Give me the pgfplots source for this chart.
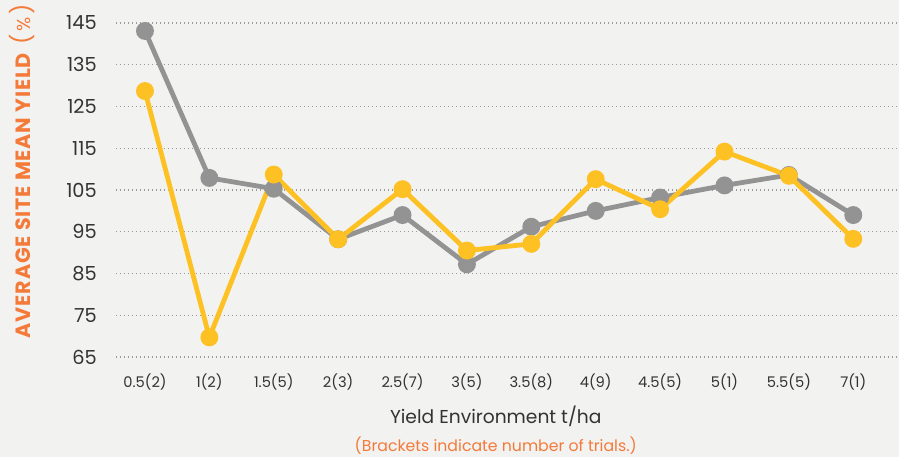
\documentclass[border=0pt]{standalone}
\usepackage{pgfplots}
\pgfplotsset{compat=1.18}
\usepackage{fontspec}
\setmainfont{Poppins}
\definecolor{bgc}{HTML}{F2F2F1}
\definecolor{grayline}{HTML}{939393}
\definecolor{yell}{HTML}{FEC124}
\definecolor{orng}{HTML}{F47A3A}
\definecolor{txt}{HTML}{333333}
\begin{document}
\begin{tikzpicture}
\path[use as bounding box, fill=bgc] (-87pt,-75pt) rectangle (587.25pt,267.75pt);
\begin{axis}[
  at={(0,0)}, anchor=south west,
  scale only axis, width=587.25pt, height=250.5pt,
  xmin=-0.45, xmax=11.71, ymin=65, ymax=145,
  axis line style={draw=none}, major tick length=0pt,
  xtick={0,...,11},
  xticklabels={0.5(2),1(2),1.5(5),2(3),2.5(7),3(5),3.5(8),4(9),4.5(5),5(1),5.5(5),7(1)},
  ytick={65,75,...,145},
  ymajorgrids, grid style={draw=gray!80, line width=0.8pt, dash pattern=on 0.8pt off 2.2pt},
  /pgf/number format/assume math mode=true,
  yticklabel style={anchor=east, inner sep=0pt, xshift=-14.25pt, font=\fontsize{14.5}{16}\selectfont, text=txt},
  xticklabel style={anchor=center, inner sep=0pt, yshift=-18.75pt, font=\fontsize{11}{13}\selectfont, text=txt},
  clip=false,
]
\addplot[color=grayline, line width=3.6pt, mark=*, mark size=4.9pt, mark options={solid}] coordinates {
(0,143.1)(1,107.9)(2,105.3)(3,93.2)(4,99.0)(5,87.2)(6,96.2)(7,100.0)(8,103.2)(9,106.1)(10,108.6)(11,99.0)};
\addplot[color=yell, line width=3.6pt, mark=*, mark size=4.9pt, mark options={solid}] coordinates {
(0,128.7)(1,69.7)(2,108.7)(3,93.2)(4,105.2)(5,90.5)(6,92.1)(7,107.6)(8,100.4)(9,114.2)(10,108.4)(11,93.3)};
\end{axis}
\node[text=txt, font=\fontsize{14}{16}\selectfont] at (284.8pt,-44.8pt) {Yield Environment t/ha};
\node[text=orng, font=\fontsize{11.8}{13}\selectfont] at (284.8pt,-66.5pt) {(Brackets indicate number of trials.)};
\node[text=orng, rotate=90, font=\fontsize{15.5}{17}\selectfont] at (-70.5pt,139.5pt) {{\bfseries\addfontfeatures{LetterSpace=4}AVERAGE SITE MEAN YIELD}\hspace{0.4em}{\fontsize{17}{19}\selectfont(}\hspace{0.15em}{\fontsize{14}{16}\selectfont\%}\hspace{0.15em}{\fontsize{17}{19}\selectfont)}};
\end{tikzpicture}
\end{document}
